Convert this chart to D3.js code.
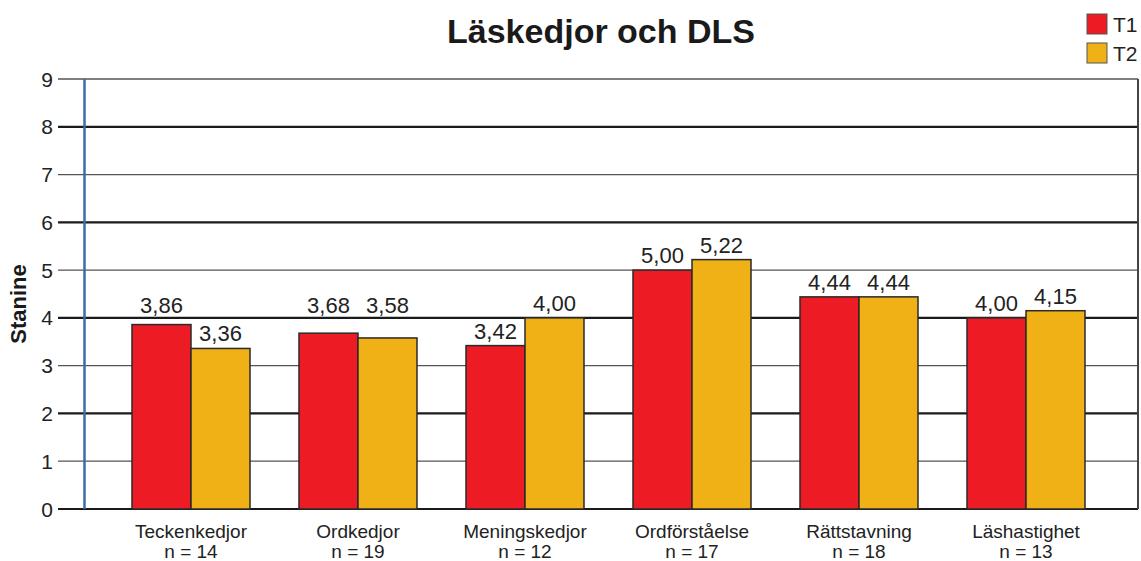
<!DOCTYPE html>
<html><head><meta charset="utf-8">
<script src="https://cdn.jsdelivr.net/npm/d3@7"></script>
<style>body{margin:0;background:#fff}svg{display:block}text{font-family:"Liberation Sans",Arial,sans-serif}</style>
</head><body>
<svg id="c" width="1141" height="561"></svg>
<script>
const categories = ["Teckenkedjor","Ordkedjor","Meningskedjor","Ordförståelse","Rättstavning","Läshastighet"];
const nLabels = ["n = 14","n = 19","n = 12","n = 17","n = 18","n = 13"];
const seriesNames = ["T1","T2"];
const t1Values = [3.86,3.68,3.42,5.00,4.44,4.00];
const t2Values = [3.36,3.58,4.00,5.22,4.44,4.15];
const yTicks = [0,1,2,3,4,5,6,7,8,9];
const colors = ["#ED1C24","#EFB115"];

const svg = d3.select("#c");
const y = d3.scaleLinear().domain([0,9]).range([509,79]);
const x = d3.scaleBand().domain(categories).range([83,1134]).paddingInner(0.2934).paddingOuter(0.2934);
const xs = d3.scaleBand().domain(seriesNames).range([0,x.bandwidth()]);
const fmt = v => v.toFixed(2).replace(".",",");

// gridlines
svg.append("g").selectAll("line").data(yTicks).join("line")
  .attr("x1",58).attr("x2",1138)
  .attr("y1",d=>y(d)).attr("y2",d=>y(d))
  .attr("stroke",d=>d%2===0?"#1a1a1a":"#555")
  .attr("stroke-width",d=>d%2===0?2.2:1.3);
// right border
svg.append("line").attr("x1",1138).attr("x2",1138).attr("y1",y(9)).attr("y2",y(0)).attr("stroke","#444").attr("stroke-width",2);

// y tick labels
svg.append("g").selectAll("text").data(yTicks).join("text")
  .attr("x",53).attr("y",d=>y(d)).attr("dy","0.36em")
  .attr("text-anchor","end").attr("font-size",21).attr("fill","#222").text(d=>d);

// y axis line (blue)
svg.append("line").attr("x1",84.5).attr("x2",84.5).attr("y1",y(9)).attr("y2",y(0)).attr("stroke","#3a6ea5").attr("stroke-width",2.5);

// label placement: sit just above the bar, but lift above a gridline if it would cross one
function labelY(v){
  let ly = y(v) - 7;
  yTicks.forEach(t => { const gy = y(t); if (gy >= ly - 17 && gy <= ly + 3) ly = gy - 5; });
  return ly;
}

// bars
const data = categories.map((c,i)=>({c, vals:[{s:"T1",v:t1Values[i]},{s:"T2",v:t2Values[i]}]}));
const g = svg.append("g").selectAll("g").data(data).join("g").attr("transform",d=>`translate(${x(d.c)},0)`);
g.selectAll("rect").data(d=>d.vals).join("rect")
  .attr("x",d=>xs(d.s)).attr("width",xs.bandwidth())
  .attr("y",d=>y(d.v)).attr("height",d=>y(0)-y(d.v))
  .attr("fill",(d,i)=>colors[i]).attr("stroke","#2a2a2a").attr("stroke-width",1.5);
g.selectAll("text").data(d=>d.vals).join("text")
  .attr("x",d=>xs(d.s)+xs.bandwidth()/2).attr("y",d=>labelY(d.v))
  .attr("text-anchor","middle").attr("font-size",22).attr("fill","#222").text(d=>fmt(d.v));

// category labels
svg.append("g").selectAll("text").data(categories).join("text")
  .attr("x",d=>x(d)+x.bandwidth()/2).attr("y",538)
  .attr("text-anchor","middle").attr("font-size",19).attr("fill","#222").text(d=>d);
svg.append("g").selectAll("text").data(nLabels).join("text")
  .attr("x",(d,i)=>x(categories[i])+x.bandwidth()/2).attr("y",558)
  .attr("text-anchor","middle").attr("font-size",19).attr("fill","#222").text(d=>d);

// title
svg.append("text").attr("x",601).attr("y",43).attr("text-anchor","middle")
  .attr("font-size",34).attr("font-weight","bold").attr("fill","#1a1a1a").text("Läskedjor och DLS");

// y label
svg.append("text").attr("transform","translate(26,304) rotate(-90)").attr("text-anchor","middle")
  .attr("font-size",22).attr("font-weight","bold").attr("fill","#1a1a1a").text("Stanine");

// legend
const lg = svg.append("g").selectAll("g").data(seriesNames).join("g")
  .attr("transform",(d,i)=>`translate(1087,${14+i*29})`);
lg.append("rect").attr("width",20).attr("height",20).attr("fill",(d,i)=>colors[i]).attr("stroke","#555").attr("stroke-width",1);
lg.append("text").attr("x",26).attr("y",10).attr("dy","0.36em").attr("font-size",21).attr("fill","#222").text(d=>d);
</script>
</body></html>
